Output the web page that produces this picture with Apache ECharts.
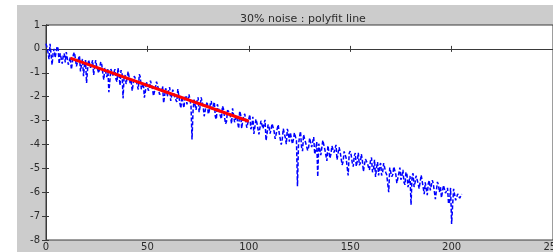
<!DOCTYPE html>
<html><head><meta charset="utf-8">
<script src="https://cdn.jsdelivr.net/npm/echarts@6/dist/echarts.min.js"></script>
<style>html,body{margin:0;padding:0;background:#fff}#c{width:553px;height:252px}</style>
</head><body><div id="c"></div>
<script>
var titleText = "30% noise : polyfit line";
var xTicks = [0, 50, 100, 150, 200, 250];
var yTicks = [1, 0, -1, -2, -3, -4, -5, -6, -7, -8];
// noisy samples at x = 0, 1, 2, ... 205
var noisyY = [
 0.22,-0.16,0.21,-0.67,0.00,-0.38,-0.01,-0.19,-0.62,-0.20,
 -0.13,-0.66,-0.34,-0.57,-0.15,-0.73,-0.41,-0.94,-0.42,-0.65,
 -1.43,-0.46,-0.79,-0.47,-1.10,-0.73,-1.01,-0.54,-1.02,-0.80,
 -1.18,-1.81,-0.84,-1.12,-0.85,-1.38,-1.06,-0.89,-2.07,-1.10,
 -1.43,-0.96,-1.34,-1.77,-1.20,-1.53,-1.06,-1.69,-1.42,-1.80,
 -1.33,-1.66,-1.29,-1.97,-1.60,-1.43,-1.91,-1.79,-2.27,-1.65,
 -1.98,-1.61,-2.19,-1.82,-2.00,-1.68,-2.26,-1.99,-2.47,-1.95,
 -2.33,-1.96,-3.79,-2.12,-2.55,-2.03,-2.41,-1.99,-2.82,-2.35,
 -2.73,-2.31,-2.54,-2.22,-2.95,-2.48,-2.81,-2.39,-2.82,-3.05,
 -2.53,-2.86,-2.49,-3.07,-2.80,-3.33,-2.76,-2.99,-2.72,-3.30,
 -2.93,-3.36,-2.84,-3.27,-3.10,-3.58,-3.01,-3.34,-2.97,-3.55,
 -3.28,-3.56,-3.09,-3.77,-3.35,-3.53,-4.01,-3.34,-3.72,-3.35,
 -3.88,-3.51,-3.79,-3.52,-5.75,-3.68,-4.11,-3.59,-3.92,-4.25,
 -3.73,-4.11,-3.69,-4.22,-5.35,-4.03,-4.41,-3.89,-4.27,-4.05,
 -4.58,-4.06,-4.34,-4.02,-4.60,-4.28,-4.86,-4.29,-4.57,-5.30,
 -4.28,-4.76,-4.49,-4.92,-4.35,-4.78,-4.66,-5.14,-4.57,-4.95,
 -4.68,-5.16,-4.64,-4.97,-5.30,-4.78,-5.16,-4.74,-5.27,-6.00,
 -4.93,-5.26,-4.89,-5.62,-5.20,-5.48,-5.06,-5.69,-5.27,-5.55,
 -6.53,-5.21,-5.59,-5.37,-5.85,-5.28,-5.81,-5.59,-6.12,-5.50,
 -5.98,-5.66,-6.29,-5.57,-6.00,-6.23,-5.71,-6.04,-5.82,-6.40,
 -7.33,-5.86,-6.34,-6.07,-6.25,-6.08
];
// noisy samples at x = 0.5, 1.5, ... 204.5
var noisyYHalf = [
 0.06,-0.43,0.15,-0.19,-0.37,0.11,-0.63,-0.11,-0.29,-0.57,
 -0.05,-0.53,-0.86,-0.24,-0.42,-0.80,-0.28,-0.66,-1.14,-0.47,
 -0.85,-0.43,-0.76,-1.09,-0.47,-0.80,-1.08,-0.66,-1.29,-0.82,
 -0.85,-1.33,-0.76,-1.09,-1.27,-0.80,-1.53,-1.01,-1.19,-1.47,
 -0.95,-1.43,-1.76,-1.14,-1.32,-1.70,-1.18,-1.56,-2.04,-1.37,
 -1.75,-1.33,-1.66,-1.99,-1.37,-1.70,-1.98,-1.56,-2.19,-1.72,
 -1.70,-2.18,-1.71,-2.04,-2.22,-1.65,-2.48,-1.96,-2.04,-2.32,
 -1.90,-2.38,-2.61,-2.09,-2.17,-2.65,-2.03,-2.41,-2.89,-2.22,
 -2.60,-2.18,-2.61,-2.84,-2.32,-2.55,-2.93,-2.51,-3.14,-2.57,
 -2.65,-3.13,-2.56,-2.89,-3.07,-2.60,-3.33,-2.81,-2.99,-3.27,
 -2.75,-3.23,-3.56,-2.94,-3.12,-3.50,-2.98,-3.36,-3.84,-3.17,
 -3.55,-3.13,-3.46,-3.79,-3.17,-3.50,-3.78,-3.36,-3.99,-3.52,
 -3.50,-3.98,-3.51,-3.84,-4.02,-3.45,-4.28,-3.76,-3.84,-4.12,
 -3.70,-4.18,-4.41,-3.89,-3.97,-4.45,-3.83,-4.21,-4.69,-4.02,
 -4.40,-3.98,-4.41,-4.64,-4.12,-4.35,-4.73,-4.31,-4.94,-4.37,
 -4.45,-4.93,-4.36,-4.69,-4.87,-4.40,-5.13,-4.61,-4.79,-5.07,
 -4.55,-5.03,-5.36,-4.74,-4.92,-5.30,-4.78,-5.16,-5.64,-4.97,
 -5.35,-4.93,-5.26,-5.59,-4.97,-5.30,-5.58,-5.16,-5.79,-5.32,
 -5.30,-5.78,-5.31,-5.64,-5.82,-5.25,-6.08,-5.56,-5.64,-5.92,
 -5.50,-5.98,-6.21,-5.69,-5.77,-6.25,-5.63,-6.01,-6.49,-5.82,
 -6.55,-5.93,-6.41,-6.04,-6.22
];
var fitX = [12, 100];
var fitY = [-0.39, -3.03];

var noisyData = [];
for (var i = 0; i < noisyY.length; i++) {
  noisyData.push([i, noisyY[i]]);
  if (i < noisyYHalf.length) noisyData.push([i + 0.5, noisyYHalf[i]]);
}
var fitData = fitX.map(function(x, i){ return [x, fitY[i]]; });

var chart = echarts.init(document.getElementById('c'), null, {renderer:'canvas'});
var font = '"DejaVu Sans", Verdana, sans-serif';
var axisCommon = {
  min: 0, max: 250, interval: 50,
  axisLine: {show: true, lineStyle: {color: '#3a3a3a', width: 1}},
  axisTick: {show: true, inside: true, length: 3, lineStyle: {color: '#3a3a3a'}},
  splitLine: {show: false}
};
chart.setOption({
  animation: false,
  backgroundColor: '#ffffff',
  graphic: [{type: 'rect', z: -10, shape: {x: 17, y: 5, width: 536, height: 247}, style: {fill: '#cccccc'}}],
  title: {text: titleText, left: 298, textAlign: 'center', top: 9,
    textStyle: {fontSize: 11, fontWeight: 'normal', color: '#2a2a2a', fontFamily: font}},
  grid: {left: 46, top: 25, right: 0, bottom: 12, show: true, backgroundColor: '#ffffff',
    borderColor: '#3a3a3a', borderWidth: 1, containLabel: false, outerBoundsMode: 'none'},
  xAxis: [
    Object.assign({type: 'value', position: 'bottom',
      axisLabel: {show: true, fontSize: 10, color: '#2a2a2a', fontFamily: font, margin: 2,
        formatter: function(v){ return xTicks.indexOf(v) >= 0 ? String(v) : ''; }}}, axisCommon),
    Object.assign({type: 'value', position: 'top', axisLabel: {show: false}}, axisCommon)
  ],
  yAxis: [
    {type: 'value', min: -8, max: 1, interval: 1, position: 'left',
      axisLine: {show: true, lineStyle: {color: '#3a3a3a'}},
      axisTick: {show: true, inside: true, length: 3, lineStyle: {color: '#3a3a3a'}},
      splitLine: {show: false},
      axisLabel: {fontSize: 10, color: '#2a2a2a', fontFamily: font, margin: 6,
        formatter: function(v){ return yTicks.indexOf(v) >= 0 ? String(v) : ''; }}},
    {type: 'value', min: -8, max: 1, interval: 1, position: 'right',
      axisLine: {show: true, lineStyle: {color: '#3a3a3a'}},
      axisTick: {show: true, inside: true, length: 4, lineStyle: {color: '#3a3a3a'}},
      splitLine: {show: false}, axisLabel: {show: false}}
  ],
  series: [
    {type: 'line', data: noisyData, xAxisIndex: 0, yAxisIndex: 0, showSymbol: false, z: 2,
      lineStyle: {color: '#0000ff', width: 1.5, type: [4, 2]}},
    {type: 'line', data: fitData, xAxisIndex: 0, yAxisIndex: 0, showSymbol: false, z: 3,
      lineStyle: {color: '#ff0000', width: 3}}
  ]
});
</script></body></html>
